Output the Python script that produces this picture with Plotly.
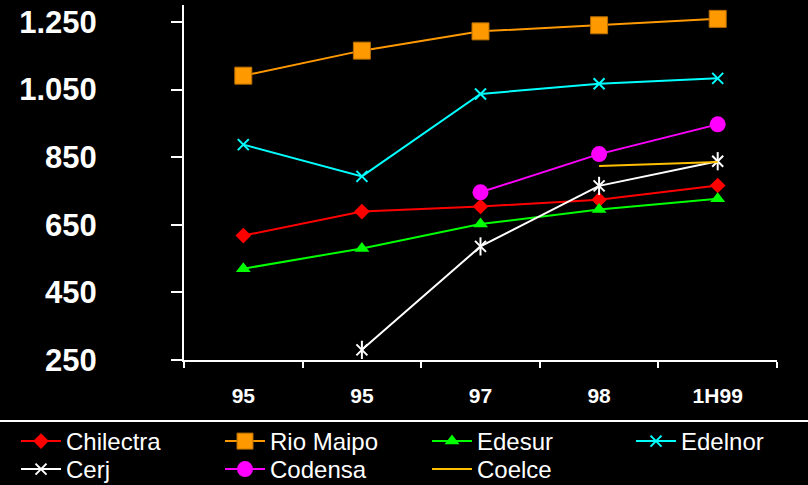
import plotly.graph_objects as go

# ---- data ----
cat_keys = ["c0", "c1", "c2", "c3", "c4"]
tick_labels = ["95", "95", "97", "98", "1H99"]

chilectra = [618, 689, 704, 724, 766]
rio_maipo = [1091, 1165, 1222, 1240, 1259]
edesur = [520, 580, 652, 695, 727]
edelnor = [887, 793, 1037, 1067, 1083]
cerj = [None, 280, 586, 765, 838]
codensa = [None, None, 746, 859, 947]
coelce = [None, None, None, 824, 836]

y_ticks = [250, 450, 650, 850, 1050, 1250]

# ---- layout geometry (pixels) ----
W, H = 808, 485
ML, MR, MT, MB = 184, 31, 5, 125
PW = W - ML - MR
PH = H - MT - MB


def px_x(p):
    return (p - ML) / PW


def px_y(p):
    return (H - MB - p) / PH


col_left = [16, 220, 427, 631]
row_top = [419, 447]

fig = go.Figure()

series = [
    dict(name="Chilectra", y=chilectra, color="#FF0000",
         marker=dict(symbol="diamond", size=12, color="#FF0000"), pos=(0, 0)),
    dict(name="Rio Maipo", y=rio_maipo, color="#FF9900",
         marker=dict(symbol="square", size=17, color="#FF9900",
                     line=dict(color="#B86E00", width=1)), pos=(1, 0)),
    dict(name="Edesur", y=edesur, color="#00FF00",
         marker=dict(symbol="triangle-up", size=13, color="#00FF00"), pos=(2, 0)),
    dict(name="Edelnor", y=edelnor, color="#00FFFF",
         marker=dict(symbol="x-thin", size=11, color="#00FFFF",
                     line=dict(color="#00FFFF", width=2)), pos=(3, 0)),
    dict(name="Cerj", y=cerj, color="#FFFFFF",
         marker=dict(symbol="x-thin", size=11, color="#FFFFFF",
                     line=dict(color="#FFFFFF", width=2)), pos=(0, 1)),
    dict(name="Codensa", y=codensa, color="#FF00FF",
         marker=dict(symbol="circle", size=16, color="#FF00FF"), pos=(1, 1)),
    dict(name="Coelce", y=coelce, color="#FFC000", marker=None, pos=(2, 1)),
]

legend_layouts = {}
for i, s in enumerate(series):
    lg = "legend" if i == 0 else f"legend{i + 1}"
    c, r = s["pos"]
    legend_layouts[lg] = dict(
        x=px_x(col_left[c]), y=px_y(row_top[r]), xanchor="left", yanchor="top",
        bgcolor="rgba(0,0,0,0)", borderwidth=0, itemwidth=40,
        font=dict(size=24, color="white", family="Liberation Sans, Arial, sans-serif"),
    )
    kw = dict(
        x=cat_keys, y=s["y"], name=s["name"], legend=lg,
        line=dict(color=s["color"], width=2),
    )
    if s["marker"] is not None:
        kw["mode"] = "lines+markers"
        kw["marker"] = s["marker"]
    else:
        kw["mode"] = "lines"
    fig.add_trace(go.Scatter(**kw))
    if s["name"] == "Cerj":
        # vertical bar completing the star marker
        fig.add_trace(go.Scatter(
            x=cat_keys, y=s["y"], mode="markers", showlegend=False, legend=lg,
            marker=dict(symbol="line-ns", size=13, color="#FFFFFF",
                        line=dict(color="#FFFFFF", width=2)),
        ))

fig.update_layout(
    width=W, height=H,
    margin=dict(l=ML, r=MR, t=MT, b=MB, autoexpand=False),
    paper_bgcolor="black", plot_bgcolor="black",
    separators=",.",
    font=dict(family="Liberation Sans, Arial, sans-serif", color="white"),
    showlegend=True,
    **legend_layouts,
)

fig.update_xaxes(
    type="category", categoryorder="array", categoryarray=cat_keys,
    tickmode="array", tickvals=cat_keys, ticktext=tick_labels,
    range=[-0.5, 4.5], tickson="boundaries",
    showline=True, linecolor="white", linewidth=2,
    ticks="outside", ticklen=6, tickwidth=2, tickcolor="white",
    showgrid=False, zeroline=False,
    tickfont=dict(size=21, color="white", weight="bold"),
    ticklabelstandoff=16,
)
fig.update_yaxes(
    range=[250, 1300], tickmode="array", tickvals=y_ticks,
    tickformat=",d",
    showline=True, linecolor="white", linewidth=2,
    ticks="outside", ticklen=11, tickwidth=2, tickcolor="white",
    showgrid=False, zeroline=False,
    tickfont=dict(size=31, color="white", weight="bold"),
    ticklabelstandoff=68,
)

fig.add_shape(type="line", xref="paper", yref="paper",
              x0=px_x(0), x1=px_x(W), y0=px_y(421), y1=px_y(421),
              line=dict(color="white", width=2))

fig.write_html(
    "out.html",
    config={"displayModeBar": False},
    post_script="document.body.style.margin='0';document.body.style.background='black';",
)
